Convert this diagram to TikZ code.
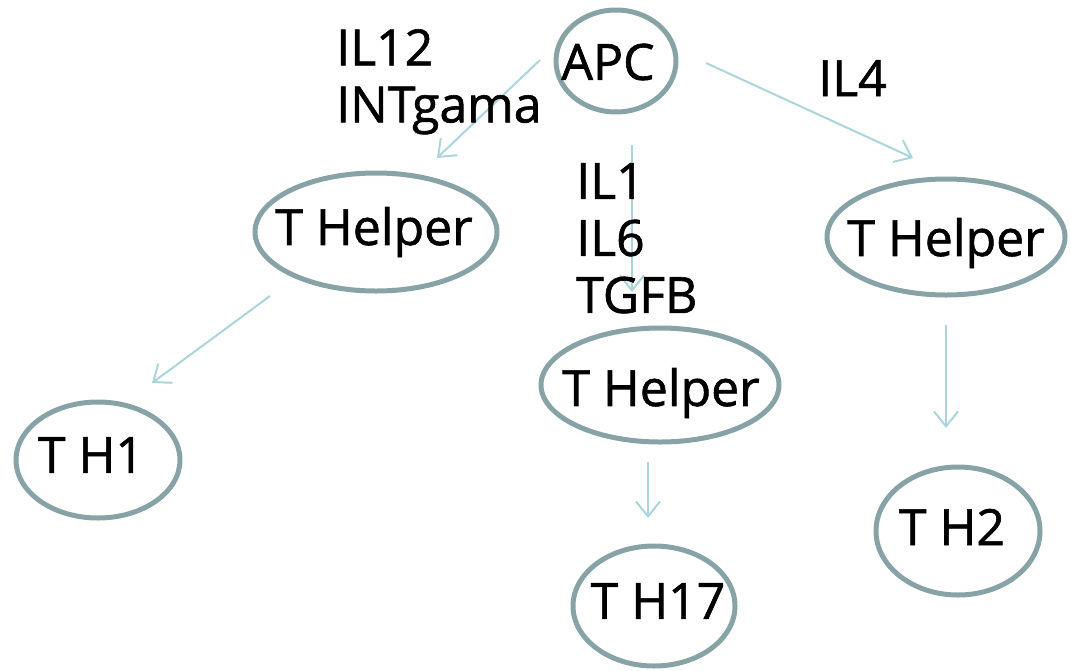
\documentclass[tikz,border=0pt]{standalone}
\usepackage{fontspec}
\setmainfont{Open Sans}
\usetikzlibrary{arrows.meta}
\newcommand{\diagfont}{\fontsize{50}{57}\selectfont\addfontfeature{FakeBold=1.2}}
\tikzset{
  flow/.style={draw=flowline, line width=2pt, -{Straight Barb[length=15pt, width=24pt, line width=2pt]}},
  lbl/.style={font=\diagfont, text=black, align=left, inner sep=0pt, anchor=north west},
  ctext/.style={font=\diagfont, text=black},
  cell/.style={draw=cellline, line width=5pt},
}
\definecolor{cellline}{HTML}{87A3A5}
\definecolor{flowline}{HTML}{AAD6DB}
\begin{document}
\begin{tikzpicture}[x=1pt, y=-1pt]
\useasboundingbox (0,0) rectangle (1071,670);
% cells
\draw[cell] (616,61) ellipse [x radius=60, y radius=51];
\node[ctext] (apc) at (608,62) {APC};
\draw[cell] (376,232) ellipse [x radius=121, y radius=59];
\node[ctext] (thl) at (374,232) {T Helper};
\draw[cell] (946,237) ellipse [x radius=119, y radius=58];
\node[ctext] (thr) at (946,243) {T Helper};
\draw[cell] (660,385) ellipse [x radius=119, y radius=57];
\node[ctext] (thm) at (661,393) {T Helper};
\draw[cell] (98,460) ellipse [x radius=82, y radius=58];
\node[ctext] (th1) at (91,455) {T H1};
\draw[cell] (654,606) ellipse [x radius=81, y radius=60];
\node[ctext] (th17) at (658,601) {T H17};
\draw[cell] (958,531) ellipse [x radius=82, y radius=64];
\node[ctext] (th2) at (952,527) {T H2};
% arrow end points
\coordinate (a1s) at (540,60);  \coordinate (a1e) at (437,158);
\coordinate (a2s) at (632,145); \coordinate (a2e) at (632,292);
\coordinate (a3s) at (706,63);  \coordinate (a3e) at (913,158);
\coordinate (a4s) at (270,296); \coordinate (a4e) at (152,383);
\coordinate (a5s) at (946,325); \coordinate (a5e) at (946,428);
\coordinate (a6s) at (648,462); \coordinate (a6e) at (648,518);
\draw[flow] (a1s) -- (a1e);
\draw[flow] (a2s) -- (a2e);
\draw[flow] (a3s) -- (a3e);
\draw[flow] (a4s) -- (a4e);
\draw[flow] (a5s) -- (a5e);
\draw[flow] (a6s) -- (a6e);
% cytokine labels
\node[lbl] (l1) at (336,29) {IL12\\INTgama};
\node[lbl] (l2) at (818,60) {IL4};
\node[lbl] (l3) at (576,163) {IL1\\IL6\\TGFB};
\end{tikzpicture}
\end{document}
